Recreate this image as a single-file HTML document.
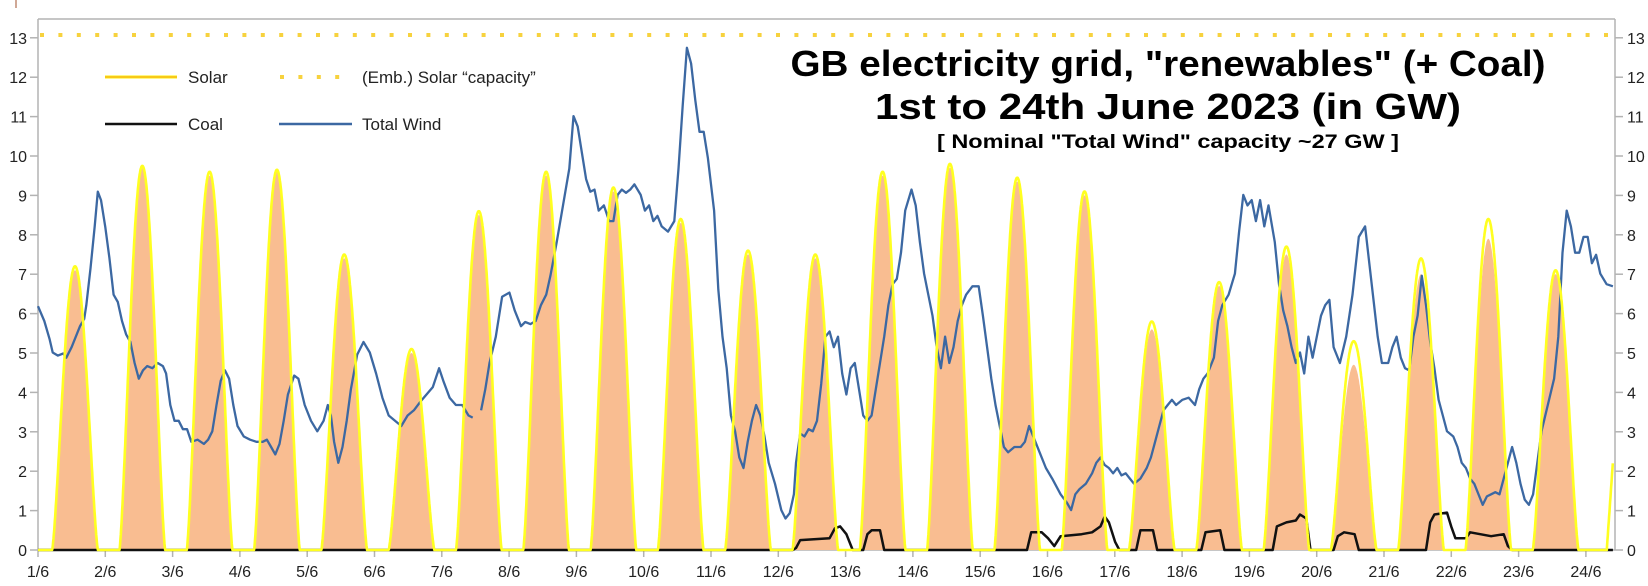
<!DOCTYPE html>
<html><head><meta charset="utf-8"><style>
html,body{margin:0;padding:0;background:#fff;}
svg{display:block;font-family:"Liberation Sans",sans-serif;}
</style></head><body>
<svg id="s" width="1648" height="586" viewBox="0 0 1648 586" xmlns="http://www.w3.org/2000/svg">
<rect width="1648" height="586" fill="#fff"/>
<line x1="16" y1="0" x2="16" y2="8" stroke="#a0522d" stroke-width="1"/>
<g id="axes" stroke="#b3b3b3" stroke-width="1.5" fill="none">
<line x1="38" y1="19" x2="1615" y2="19"/>
<line x1="38" y1="19" x2="38" y2="550"/>
<line x1="1615" y1="19" x2="1615" y2="550"/>
<line x1="38" y1="550" x2="1615" y2="550"/>
</g>
<g id="ticks" stroke="#b3b3b3" stroke-width="1.5"></g>
<g id="ylab" font-size="16" fill="#222"></g>
<g id="xlab" font-size="16" fill="#222" text-anchor="middle"></g>
<line x1="40" y1="35" x2="1612" y2="35" stroke="#f7d23e" stroke-width="4" stroke-dasharray="4,14.4"/>
<g id="plot"></g>
<line x1="105" y1="77" x2="177" y2="77" stroke="#ffef00" stroke-width="3"/>
<line x1="105" y1="77" x2="177" y2="77" stroke="#f0a030" stroke-width="1"/>
<text x="188" y="83" font-size="17" fill="#222">Solar</text>
<line x1="280" y1="77" x2="340" y2="77" stroke="#f7d23e" stroke-width="4" stroke-dasharray="4,14.4"/>
<text x="362" y="83" font-size="17" fill="#222">(Emb.) Solar “capacity”</text>
<line x1="105" y1="124" x2="177" y2="124" stroke="#111" stroke-width="2.5"/>
<text x="188" y="130" font-size="17" fill="#222">Coal</text>
<line x1="279" y1="124" x2="352" y2="124" stroke="#3c68a2" stroke-width="2.5"/>
<text x="362" y="130" font-size="17" fill="#222">Total Wind</text>
<text x="1168" y="76" font-size="36" font-weight="bold" text-anchor="middle" fill="#000" textLength="755" lengthAdjust="spacingAndGlyphs">GB electricity grid, "renewables" (+ Coal)</text>
<text x="1168" y="119" font-size="36" font-weight="bold" text-anchor="middle" fill="#000" textLength="586" lengthAdjust="spacingAndGlyphs">1st to 24th June 2023 (in GW)</text>
<text x="1168" y="148" font-size="19" font-weight="bold" text-anchor="middle" fill="#000" textLength="462" lengthAdjust="spacingAndGlyphs">[ Nominal "Total Wind" capacity ~27 GW ]</text>
</svg>
<script>
(function(){
var NS="http://www.w3.org/2000/svg";
function el(n,a,p){var e=document.createElementNS(NS,n);for(var k in a)e.setAttribute(k,a[k]);(p||document.getElementById('plot')).appendChild(e);return e;}
var DX=67.3, Y0=550, GY=39.4;
function yv(g){return Y0-g*GY;}
var ticks=document.getElementById('ticks'),yl=document.getElementById('ylab'),xl=document.getElementById('xlab');
for(var g=0;g<=13;g++){var y=yv(g);
el('line',{x1:30,y1:y,x2:38,y2:y},ticks);el('line',{x1:1615,y1:y,x2:1623,y2:y},ticks);
var t=el('text',{x:27,y:y+6,'text-anchor':'end'},yl);t.textContent=g;
t=el('text',{x:1627,y:y+6},yl);t.textContent=g;}
for(var d=0;d<24;d++){var x=38+d*DX;el('line',{x1:x,y1:550,x2:x,y2:557},ticks);
var t=el('text',{x:x,y:577},xl);t.textContent=(d+1)+'/6';}
var peaks=[7.2,9.75,9.6,9.65,7.5,5.1,8.6,9.6,9.2,8.4,7.6,7.5,9.6,9.8,9.45,9.1,5.8,6.8,7.7,5.3,7.4,8.4,7.1,7.0];
var fillP=[7.1,9.7,9.5,9.6,7.4,5.0,8.5,9.5,9.1,8.3,7.5,7.4,9.5,9.7,9.35,9.0,5.6,6.7,7.5,4.7,7.0,7.9,7.0,0];
function sol(t,pk){var d=Math.floor(t),f=t-d;
if(d>=23){if(pk[23]==0)return 0;if(f<0.31)return 0;return Math.min(2.2,(f-0.31)/0.09*2.2);}
var u=(f-0.21)/0.68;if(u<=0||u>=1)return 0;return pk[d]*Math.pow(Math.sin(Math.PI*u),1.35);}
var tEnd=(1613-38)/DX;
function path(pk){var s='M38,550';for(var t=0;t<=tEnd;t+=0.005){s+=' L'+(38+t*DX).toFixed(1)+','+yv(sol(t,pk)).toFixed(1);}return s;}
el('path',{d:path(fillP)+' L1613,550 Z',fill:'#f9bd91',stroke:'none'});
var coal=[[36,0],[755,0],[758,.05],[762,.25],[790,.3],[795,.55],[800,.6],[806,.4],[812,0],[822,0],[826,.4],[830,.5],[838,.5],[842,0],[978,0],[982,.45],[992,.45],[998,.3],[1004,.1],[1010,.35],[1030,.4],[1040,.45],[1048,.6],[1052,.85],[1056,.7],[1062,.2],[1066,0],[1082,0],[1086,.5],[1098,.5],[1102,0],[1144,0],[1148,.45],[1162,.5],[1166,0],[1212,0],[1216,.6],[1225,.7],[1234,.75],[1238,.9],[1244,.8],[1248,0],[1270,0],[1274,.35],[1280,.45],[1290,.4],[1294,0],[1358,0],[1362,.7],[1366,.9],[1378,.95],[1382,.6],[1386,.3],[1396,.3],[1400,.45],[1420,.35],[1432,.4],[1436,.1],[1440,0],[1536,0]];
function X(xo){return 38+(xo-36)*DX/64.1;}
el('polyline',{points:coal.map(function(p){return X(p[0]).toFixed(1)+','+yv(p[1]).toFixed(1);}).join(' '),fill:'none',stroke:'#111','stroke-width':2.5,'stroke-linejoin':'round'});
var w="36,291 42,305 47,322 50,335 55,338 60,336 63,340 68,330 72,320 76,310 80,303 82,290 86,255 90,215 93,182 96,190 100,215 104,245 108,280 112,287 116,305 120,318 124,325 128,345 132,360 136,352 140,348 145,350 150,345 155,348 158,355 162,385 166,400 170,400 174,408 178,408 182,420 188,418 194,422 198,418 202,410 206,385 210,362 214,352 218,360 222,385 226,405 232,415 238,418 244,420 250,420 254,418 258,425 262,432 266,422 270,400 274,375 280,357 284,360 290,385 296,400 302,410 308,400 312,385 315,395 318,420 322,440 326,425 330,400 334,370 340,337 346,325 352,335 358,355 364,378 370,395 376,400 382,405 388,395 394,390 400,382 406,375 412,368 418,350 422,362 428,378 434,385 440,385 446,395 450,397";
var w2="458,390 462,370 466,345 472,320 478,282 485,278 490,295 496,310 500,306 505,308 510,305 515,290 520,280 524,262 530,230 536,195 542,160 546,110 550,120 554,145 558,170 562,182 566,180 570,200 575,195 580,210 584,210 588,185 592,180 596,183 600,180 604,175 610,185 614,200 618,195 622,210 626,205 630,215 636,220 642,210 646,160 650,100 654,45 658,60 662,95 666,125 670,125 674,150 680,200 684,275 688,320 692,350 696,395 700,410 704,435 708,445 712,420 716,400 720,385 724,395 728,415 732,440 738,460 744,485 748,493 752,488 756,470 758,440 762,412 766,415 770,408 774,410 778,400 782,365 786,320 790,315 794,330 798,320 802,355 806,375 810,350 814,345 818,370 822,395 826,400 830,395 834,370 838,345 842,320 846,290 850,270 854,265 858,240 862,200 868,180 872,195 876,230 880,260 884,280 888,300 892,330 896,350 900,320 904,345 908,330 912,305 916,290 920,280 926,272 932,272 936,300 940,330 944,360 948,385 952,405 956,425 960,430 966,425 972,425 976,420 980,405 986,420 990,430 996,445 1002,455 1010,470 1016,478 1020,485 1024,470 1028,465 1034,460 1040,450 1044,440 1048,435 1052,442 1056,445 1060,450 1064,445 1068,452 1072,450 1076,455 1080,460 1086,455 1092,445 1096,435 1100,420 1104,405 1108,390 1112,385 1116,380 1120,385 1126,380 1132,378 1138,385 1142,370 1146,360 1150,355 1156,340 1160,305 1164,290 1170,280 1176,260 1180,220 1184,185 1188,195 1192,190 1196,210 1200,190 1204,215 1208,195 1214,230 1218,270 1222,295 1226,310 1230,330 1234,345 1238,335 1242,355 1246,320 1250,340 1254,320 1258,300 1262,290 1266,285 1270,330 1276,345 1282,320 1288,280 1294,225 1300,215 1304,250 1308,285 1312,320 1316,345 1322,345 1326,330 1330,320 1334,340 1338,350 1342,352 1346,320 1350,300 1354,262 1358,290 1362,325 1366,350 1370,380 1374,395 1378,410 1384,415 1388,425 1392,440 1396,445 1400,455 1404,460 1408,470 1412,480 1416,472 1420,470 1424,468 1428,470 1432,455 1436,440 1440,425 1444,440 1448,460 1452,475 1456,480 1460,470 1464,440 1468,410 1474,385 1480,360 1484,320 1488,240 1492,200 1496,215 1500,240 1504,240 1508,225 1512,225 1516,250 1520,242 1524,260 1530,270 1536,272";
function conv(s){return s.split(' ').map(function(p){var a=p.split(',');var xo=+a[0],yo=+a[1];var g=(523-yo)/37.5;return X(xo).toFixed(1)+','+yv(g).toFixed(1);}).join(' ');}
[w,w2].forEach(function(s){el('polyline',{points:conv(s),fill:'none',stroke:'#3c68a2','stroke-width':2.3,'stroke-linejoin':'round'});});
el('path',{d:path(peaks),fill:'none',stroke:'#ffff20','stroke-width':2.6,'stroke-linejoin':'round'});
})();
</script>
</body></html>
